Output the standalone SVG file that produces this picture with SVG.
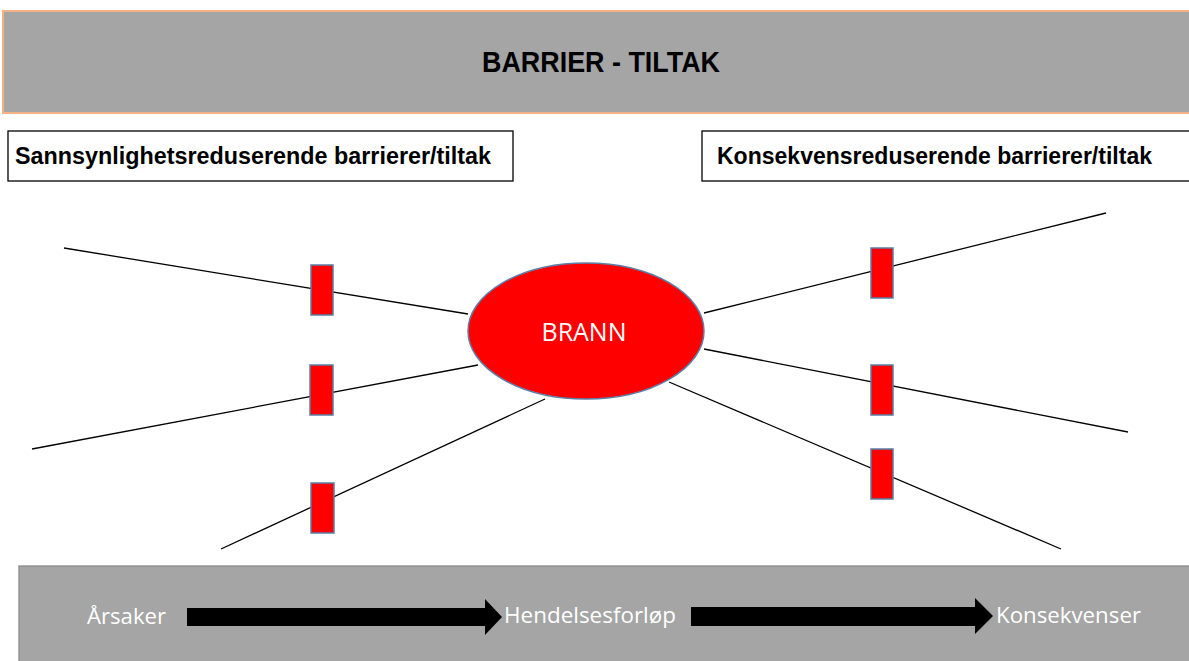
<svg xmlns="http://www.w3.org/2000/svg" width="1189" height="661" viewBox="0 0 1189 661">
<style>
  .band { fill: #a5a5a5; }
  .bar { fill: #ff0000; stroke: #5a7fa8; stroke-width: 1.5; }
  .line { stroke: #000; stroke-width: 1.3; fill: none; }
  .arrow { fill: #000; }
  .bold { font-family: "Liberation Sans", Arial, sans-serif; font-weight: bold; fill: #000; }
  .flow { font-family: "Open Sans", "Liberation Sans", sans-serif; fill: #ffffff; font-size: 22px; }
</style>
<rect width="1189" height="661" fill="#ffffff"/>
<g id="header">
  <rect x="3" y="11" width="1192" height="102" class="band" stroke="#f4b183" stroke-width="2"/>
  <text x="601" y="72" class="bold" font-size="30" text-anchor="middle" textLength="238" lengthAdjust="spacingAndGlyphs">BARRIER - TILTAK</text>
</g>
<g id="left-title">
  <rect x="8" y="131" width="505" height="50" fill="#ffffff" stroke="#000" stroke-width="1.3"/>
  <text x="15" y="164" class="bold" font-size="23" textLength="476" lengthAdjust="spacingAndGlyphs">Sannsynlighetsreduserende barrierer/tiltak</text>
</g>
<g id="right-title">
  <rect x="702" y="131" width="495" height="50" fill="#ffffff" stroke="#000" stroke-width="1.3"/>
  <text x="717" y="164" class="bold" font-size="23" textLength="435" lengthAdjust="spacingAndGlyphs">Konsekvensreduserende barrierer/tiltak</text>
</g>
<g id="connectors">
  <line class="line" x1="64" y1="248" x2="468" y2="314"/>
  <line class="line" x1="32" y1="449" x2="478" y2="365"/>
  <line class="line" x1="221" y1="549" x2="545" y2="399"/>
  <line class="line" x1="704" y1="313" x2="1106" y2="213"/>
  <line class="line" x1="704" y1="349" x2="1128" y2="432"/>
  <line class="line" x1="669" y1="382" x2="1061" y2="549"/>
</g>
<g id="brann">
  <ellipse cx="586" cy="331" rx="118" ry="68" fill="#ff0000" stroke="#5a7fa8" stroke-width="1.5"/>
  <text x="584" y="341" font-family="Open Sans, Liberation Sans, sans-serif" font-size="25" fill="#ffffff" text-anchor="middle" textLength="85" lengthAdjust="spacingAndGlyphs">BRANN</text>
</g>
<g id="barrier-l1"><rect class="bar" x="311" y="265" width="22" height="50"/></g>
<g id="barrier-l2"><rect class="bar" x="310" y="365" width="23" height="50"/></g>
<g id="barrier-l3"><rect class="bar" x="311" y="483" width="23" height="50"/></g>
<g id="barrier-r1"><rect class="bar" x="871" y="248" width="22" height="50"/></g>
<g id="barrier-r2"><rect class="bar" x="871" y="365" width="22" height="50"/></g>
<g id="barrier-r3"><rect class="bar" x="871" y="449" width="22" height="50"/></g>
<g id="flow-band">
  <rect x="19" y="566" width="1180" height="100" class="band" stroke="#8a8a8a" stroke-width="1.3"/>
  <text x="87" y="624" class="flow" textLength="79" lengthAdjust="spacingAndGlyphs">Årsaker</text>
  <text x="504" y="623" class="flow" textLength="172" lengthAdjust="spacingAndGlyphs">Hendelsesforløp</text>
  <text x="996" y="623" class="flow" textLength="145" lengthAdjust="spacingAndGlyphs">Konsekvenser</text>
</g>
<g id="flow-arrows">
  <polygon class="arrow" points="187,608 485,608 485,599 502,617 485,635 485,626 187,626"/>
  <polygon class="arrow" points="691,607 975,607 975,598 993,616 975,634 975,626 691,626"/>
</g>
</svg>
